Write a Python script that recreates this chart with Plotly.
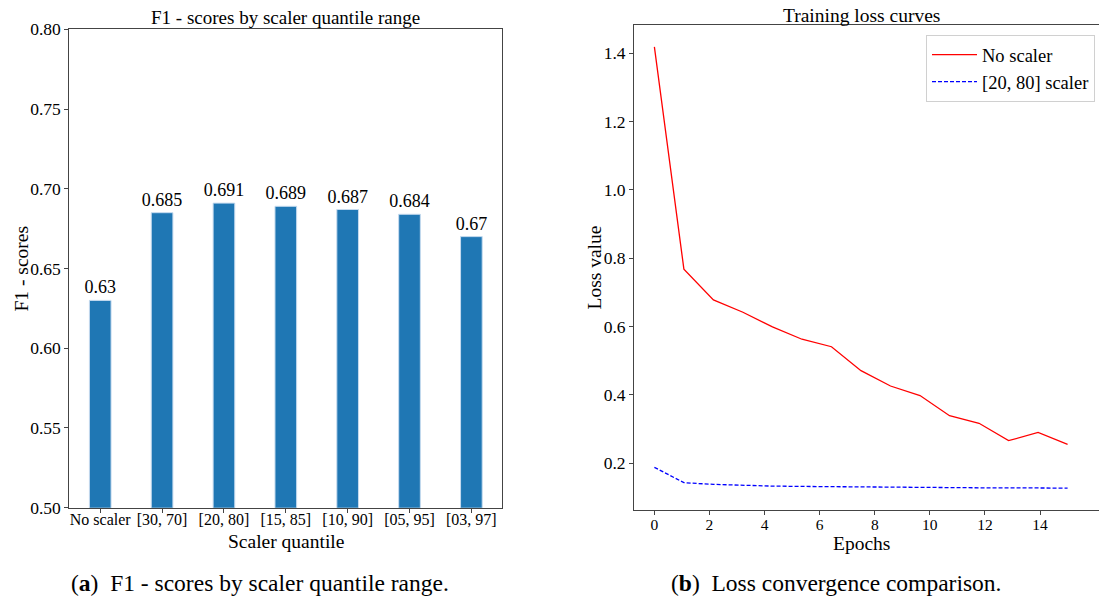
import numpy as np
import plotly.graph_objects as go

# ---------------- data ----------------
quantile_labels = ["No scaler", "[30, 70]", "[20, 80]", "[15, 85]", "[10, 90]", "[05, 95]", "[03, 97]"]
f1_scores = [0.63, 0.685, 0.691, 0.689, 0.687, 0.684, 0.67]

loss_no_scaler = [1.419, 0.768, 0.678, 0.642, 0.599, 0.563, 0.541, 0.471, 0.426,
                  0.398, 0.339, 0.317, 0.266, 0.290, 0.255]
loss_20_80 = [0.188, 0.143, 0.138, 0.135, 0.133, 0.132, 0.131, 0.130, 0.130,
              0.129, 0.129, 0.128, 0.128, 0.127, 0.127]
epochs = np.linspace(0, 15, len(loss_no_scaler))

left_yticks = [0.50, 0.55, 0.60, 0.65, 0.70, 0.75, 0.80]
right_yticks = [0.2, 0.4, 0.6, 0.8, 1.0, 1.2, 1.4]
right_xticks = [0, 2, 4, 6, 8, 10, 12, 14]

W, H = 1099, 598
FONT = "Liberation Serif"
AX = "#444444"


def px_x(p):
    return p / W


def px_y(p):
    return 1 - p / H


fig = go.Figure()

# left: bar chart
fig.add_trace(go.Bar(
    x=list(range(len(quantile_labels))), y=f1_scores,
    width=0.35,
    marker=dict(color="#1f77b4", line=dict(color="#c6dbef", width=1)),
    text=[str(v) for v in f1_scores], textposition="outside",
    constraintext="none",
    textfont=dict(family=FONT, size=18, color="black"),
    cliponaxis=False, showlegend=False,
    xaxis="x", yaxis="y",
))

# right: loss curves
fig.add_trace(go.Scatter(
    x=epochs, y=loss_no_scaler, mode="lines", name="No scaler",
    line=dict(color="#ff0000", width=1.3),
    xaxis="x2", yaxis="y2",
))
fig.add_trace(go.Scatter(
    x=epochs, y=loss_20_80, mode="lines", name="[20, 80] scaler",
    line=dict(color="#0000ff", width=1.3, dash="4px,2px"),
    xaxis="x2", yaxis="y2",
))

axis_common = dict(showgrid=False, zeroline=False, showline=True, linecolor=AX,
                   linewidth=1, ticks="outside", ticklen=4, tickcolor=AX,
                   automargin=False,
                   tickfont=dict(family=FONT, color="black"))

fig.update_layout(
    width=W, height=H,
    margin=dict(l=0, r=0, t=0, b=0, autoexpand=False),
    paper_bgcolor="white", plot_bgcolor="white",
    font=dict(family=FONT, color="black"),
    xaxis=dict(axis_common, domain=[px_x(69.3), px_x(502.3)], range=[-0.5, 6.5],
               tickmode="array", tickvals=list(range(len(quantile_labels))),
               ticktext=quantile_labels, mirror=True, ticklabelstandoff=-7,
               tickfont=dict(family=FONT, size=16, color="black"), anchor="y"),
    yaxis=dict(axis_common, domain=[px_y(507.7), px_y(29.3)], range=[0.5, 0.8],
               tickmode="array", tickvals=left_yticks,
               ticktext=[f"{v:.2f}" for v in left_yticks], mirror=True,
               tickfont=dict(family=FONT, size=17.5, color="black"), anchor="x"),
    xaxis2=dict(axis_common, domain=[px_x(634), 1.0], range=[-0.74, 16.14],
                tickmode="array", tickvals=right_xticks,
                ticktext=[str(v) for v in right_xticks], ticklabelstandoff=-4,
                tickfont=dict(family=FONT, size=15.5, color="black"), anchor="y2",
                mirror=True),
    yaxis2=dict(axis_common, domain=[px_y(510), px_y(25)], range=[0.063, 1.483],
                tickmode="array", tickvals=right_yticks,
                ticktext=[f"{v:.1f}" for v in right_yticks],
                tickfont=dict(family=FONT, size=17.5, color="black"), anchor="x2"),
    legend=dict(x=px_x(1095), xanchor="right", y=px_y(35), yanchor="top",
                bgcolor="white", bordercolor="#d0d0d0", borderwidth=1,
                itemwidth=45, tracegroupgap=0,
                font=dict(family=FONT, size=18.5, color="black")),
)

annots = [
    dict(text="F1 - scores by scaler quantile range", x=px_x(285.8), y=px_y(18), size=19),
    dict(text="Training loss curves", x=px_x(861), y=px_y(15.5), size=19.5),
    dict(text="Scaler quantile", x=px_x(286), y=px_y(541), size=19.5),
    dict(text="Epochs", x=px_x(861.5), y=px_y(543.5), size=19.5),
    dict(text="(<b>a</b>)\u00a0\u00a0F1 - scores by scaler quantile range.", x=px_x(260), y=px_y(583), size=23.5),
    dict(text="(<b>b</b>)\u00a0\u00a0Loss convergence comparison.", x=px_x(836), y=px_y(583), size=23.5),
]
for a in annots:
    fig.add_annotation(text=a["text"], x=a["x"], y=a["y"], xref="paper", yref="paper",
                       xanchor="center", yanchor="middle", showarrow=False,
                       font=dict(family=FONT, size=a["size"], color="black"))

fig.add_annotation(text="F1 - scores", x=px_x(21), y=px_y(268.5), xref="paper", yref="paper",
                   xanchor="center", yanchor="middle", showarrow=False, textangle=-90,
                   font=dict(family=FONT, size=19.5, color="black"))
fig.add_annotation(text="Loss value", x=px_x(594), y=px_y(267.5), xref="paper", yref="paper",
                   xanchor="center", yanchor="middle", showarrow=False, textangle=-90,
                   font=dict(family=FONT, size=19.5, color="black"))

fig.write_html("out.html")
